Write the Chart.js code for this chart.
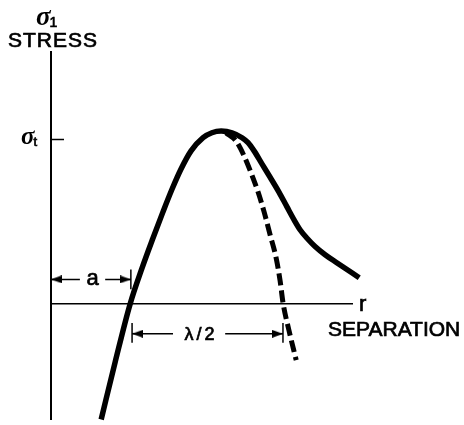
<!DOCTYPE html>
<html>
<head>
<meta charset="utf-8">
<script src="https://cdn.jsdelivr.net/npm/chart.js@4.4.1/dist/chart.umd.min.js"></script>
<style>
  html, body { margin: 0; padding: 0; background: #fff; }
  canvas { display: block; }
</style>
</head>
<body>
<canvas id="stress-chart" width="464" height="425"></canvas>
<script>
// Stress (in units of sigma_t) against separation r
const curveR = [1.25, 1.60, 1.97, 2.27, 2.54, 2.79, 3.02, 3.24, 3.49, 3.79, 4.01, 4.24, 4.51, 4.76, 4.91, 5.06, 5.26, 5.46, 5.68, 5.88, 6.06, 6.21, 6.38, 6.58, 6.83, 7.13, 7.68];
const curveStress = [-0.70, -0.35, 0, 0.22, 0.40, 0.56, 0.70, 0.82, 0.93, 1.01, 1.04, 1.05, 1.04, 1.01, 0.98, 0.93, 0.85, 0.77, 0.68, 0.59, 0.51, 0.45, 0.40, 0.35, 0.30, 0.25, 0.16];

// sine approximation beyond the peak (dashed)
const sineR = [4.36, 4.61, 4.81, 4.98, 5.16, 5.31, 5.46, 5.61, 5.71, 5.78, 5.93, 6.11];
const sineStress = [1.04, 0.99, 0.90, 0.80, 0.68, 0.56, 0.42, 0.28, 0.14, 0.01, -0.16, -0.34];

// axis ranges and the single stress tick
const rRange = [0, 7.5];
const stressRange = [-0.70, 1.53];
const stressTicks = [1];

// dimension "a": from the origin to the zero crossing
const aSpan = [0, 1.99];
const aGap = [0.72, 1.35];
const aLevel = 0.15;
const aTick = [0.09, 0.21];

// dimension "lambda/2"
const halfLambdaSpan = [2.02, 5.78];
const halfLambdaGap = [3.04, 4.34];
const halfLambdaLevel = -0.18;
const halfLambdaTick = [-0.235, -0.115];

const toPoints = (xs, ys) => xs.map((x, i) => ({ x: x, y: ys[i] }));

// filled arrow head, tip at the centre of the canvas, pointing right
function arrowHead(len, half) {
    const c = document.createElement('canvas');
    c.width = len * 2;
    c.height = half * 2;
    const g = c.getContext('2d');
    g.fillStyle = '#000';
    g.beginPath();
    g.moveTo(len, half);
    g.lineTo(0, 0);
    g.lineTo(0, half * 2);
    g.closePath();
    g.fill();
    return c;
}
const arrow = arrowHead(11, 4);

function dimensionLine(span, gap, level) {
    return {
        data: [
            { x: span[0], y: level },
            { x: gap[0], y: level },
            { x: (gap[0] + gap[1]) / 2, y: null },
            { x: gap[1], y: level },
            { x: span[1], y: level }
        ],
        borderColor: '#000',
        borderWidth: 1.5,
        pointStyle: [arrow, false, false, false, arrow],
        pointRotation: [180, 0, 0, 0, 0],
        pointRadius: [4, 0, 0, 0, 4],
        spanGaps: false,
        tension: 0,
        clip: false
    };
}

function tickLine(r, range) {
    return {
        data: [{ x: r, y: range[0] }, { x: r, y: range[1] }],
        borderColor: '#000',
        borderWidth: 1.5,
        pointRadius: 0,
        tension: 0,
        clip: false
    };
}

// lettering: regular face with a thin outline so the strokes come out heavier
function letter(ctx, text, x, y) {
    ctx.fillText(text, x, y);
    ctx.strokeText(text, x, y);
}

// sigma with a subscript, left edge at x
function sigma(ctx, sub, x, baseline, size) {
    ctx.font = 'italic bold ' + size + 'px "Liberation Serif"';
    ctx.textAlign = 'left';
    ctx.fillText('σ', x, baseline);
    const w = ctx.measureText('σ').width;
    ctx.font = Math.round(size * 0.5) + 'px "Liberation Sans"';
    letter(ctx, sub, x + w - 1, baseline + 2);
}

const lettering = {
    id: 'lettering',
    afterDatasetsDraw(chart) {
        const { ctx, scales: { x, y } } = chart;
        const x0 = x.getPixelForValue(0);
        const y0 = y.getPixelForValue(0);
        ctx.save();
        ctx.fillStyle = '#000';
        ctx.strokeStyle = '#000';
        ctx.lineWidth = 0.7;
        ctx.textBaseline = 'alphabetic';

        // stress axis title
        sigma(ctx, '1', x0 - 15, 25, 27);
        ctx.font = '21px "Liberation Sans"';
        ctx.textAlign = 'center';
        ctx.letterSpacing = '1px';
        letter(ctx, 'STRESS', x0 + 2, y.top - 5);
        ctx.letterSpacing = '0px';

        // tick label
        stressTicks.forEach(v => sigma(ctx, 't', x0 - 30, y.getPixelForValue(v) + 5, 25));

        // separation axis title
        ctx.font = '22px "Liberation Sans"';
        ctx.textAlign = 'left';
        letter(ctx, 'r', x.right + 7, y0 + 7);
        ctx.font = '21px "Liberation Sans"';
        letter(ctx, 'SEPARATION', x.right - 24, y0 + 32);

        // dimension labels
        ctx.textAlign = 'center';
        ctx.font = '22px "Liberation Sans"';
        letter(ctx, 'a', x.getPixelForValue((aGap[0] + aGap[1]) / 2), y.getPixelForValue(aLevel) + 6);
        ctx.font = '18px "Liberation Sans"';
        ctx.letterSpacing = '3px';
        letter(ctx, 'λ/2', x.getPixelForValue((halfLambdaGap[0] + halfLambdaGap[1]) / 2) + 2, y.getPixelForValue(halfLambdaLevel) + 6);
        ctx.letterSpacing = '0px';
        ctx.restore();
    }
};

new Chart(document.getElementById('stress-chart'), {
    type: 'line',
    data: {
        datasets: [
            {
                data: toPoints(curveR, curveStress),
                borderColor: '#000',
                borderWidth: 5.5,
                borderCapStyle: 'butt',
                pointRadius: 0,
                cubicInterpolationMode: 'monotone',
                clip: false
            },
            {
                data: toPoints(sineR, sineStress),
                borderColor: '#000',
                borderWidth: 5,
                borderDash: [12, 5],
                borderCapStyle: 'butt',
                pointRadius: 0,
                cubicInterpolationMode: 'monotone',
                clip: false
            },
            dimensionLine(aSpan, aGap, aLevel),
            tickLine(aSpan[1], aTick),
            dimensionLine(halfLambdaSpan, halfLambdaGap, halfLambdaLevel),
            tickLine(halfLambdaSpan[0], halfLambdaTick),
            tickLine(halfLambdaSpan[1], halfLambdaTick)
        ]
    },
    options: {
        responsive: false,
        animation: false,
        events: [],
        layout: { padding: { left: 51, right: 112, top: 52, bottom: 0 } },
        plugins: {
            legend: { display: false },
            tooltip: { enabled: false }
        },
        scales: {
            x: {
                type: 'linear',
                min: rRange[0],
                max: rRange[1],
                position: { y: 0 },
                afterBuildTicks: scale => { scale.ticks = []; },
                ticks: { display: false },
                grid: { display: false, drawTicks: false },
                border: { display: true, color: '#000', width: 1.5 }
            },
            y: {
                type: 'linear',
                min: stressRange[0],
                max: stressRange[1],
                position: { x: 0 },
                afterBuildTicks: scale => { scale.ticks = stressTicks.map(v => ({ value: v })); },
                ticks: { display: false },
                grid: {
                    drawOnChartArea: false,
                    drawTicks: true,
                    tickLength: -14,
                    tickWidth: 1.5,
                    tickColor: '#000'
                },
                border: { display: true, color: '#000', width: 2 }
            }
        }
    },
    plugins: [lettering]
});
</script>
</body>
</html>
